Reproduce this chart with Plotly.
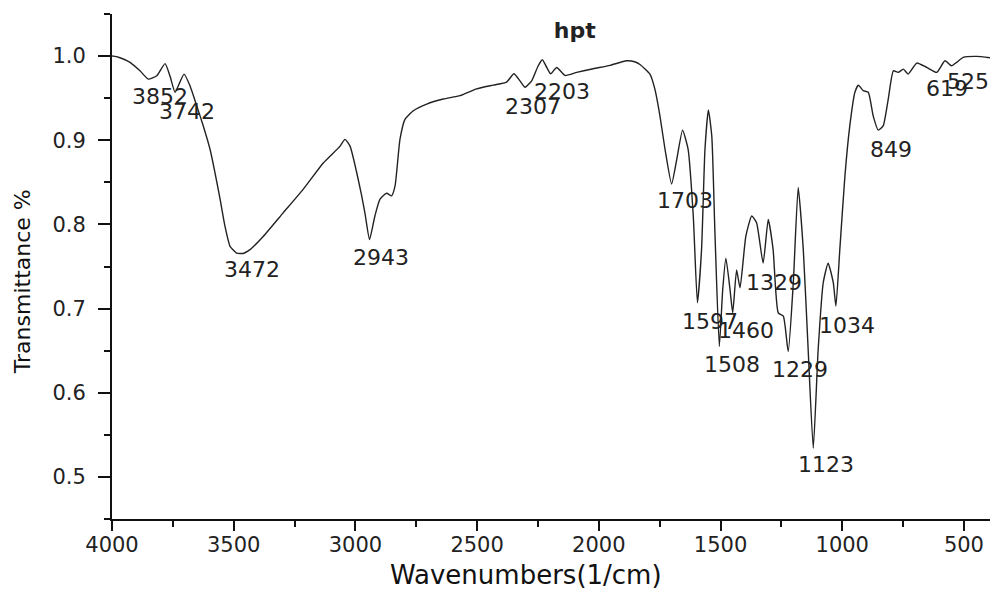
import plotly.graph_objects as go

# Spectrum trace (wavenumber in 1/cm, transmittance)
wavenumber = [4000, 3995, 3967, 3926, 3885, 3851, 3816, 3782, 3762, 3741, 3721, 3704, 3680, 3652,
              3625, 3597, 3577, 3556, 3536, 3515, 3488, 3461, 3433, 3378, 3296, 3214, 3132, 3063,
              3043, 3022, 2995, 2975, 2960, 2942, 2920, 2899, 2872, 2851, 2837, 2817, 2796, 2762,
              2707, 2639, 2570, 2502, 2434, 2379, 2349, 2324, 2303, 2276, 2249, 2232, 2214, 2198,
              2173, 2139, 2091, 2023, 1954, 1886, 1850, 1831, 1790, 1770, 1749, 1728, 1701, 1680,
              1656, 1633, 1612, 1595, 1578, 1564, 1550, 1536, 1523, 1505, 1491, 1478, 1461, 1450,
              1434, 1420, 1396, 1372, 1352, 1325, 1304, 1284, 1263, 1242, 1222, 1201, 1181, 1160,
              1140, 1119, 1099, 1078, 1058, 1037, 1026, 1010, 989, 969, 948, 934, 914, 893, 873,
              852, 832, 811, 790, 770, 749, 729, 694, 653, 612, 578, 551, 530, 503, 448, 393]
transmittance = [1.000, 1.000, 0.998, 0.9925, 0.9825, 0.9726, 0.9766, 0.991, 0.9766, 0.957, 0.969,
                 0.9786, 0.965, 0.941, 0.917, 0.889, 0.8615, 0.830, 0.798, 0.774, 0.766, 0.7655,
                 0.770, 0.786, 0.814, 0.842, 0.873, 0.893, 0.901, 0.893, 0.862, 0.835, 0.812,
                 0.782, 0.810, 0.830, 0.837, 0.834, 0.846, 0.901, 0.925, 0.935, 0.943, 0.949,
                 0.953, 0.961, 0.9655, 0.969, 0.979, 0.9706, 0.963, 0.9706, 0.9885, 0.9956,
                 0.9865, 0.979, 0.9865, 0.977, 0.9806, 0.985, 0.989, 0.9944, 0.993, 0.990,
                 0.9786, 0.961, 0.929, 0.889, 0.848, 0.877, 0.912, 0.889, 0.810, 0.707, 0.770,
                 0.889, 0.936, 0.905, 0.790, 0.655, 0.7226, 0.760, 0.7226, 0.695, 0.746, 0.7246,
                 0.786, 0.810, 0.802, 0.754, 0.806, 0.770, 0.695, 0.691, 0.649, 0.731, 0.844,
                 0.770, 0.651, 0.534, 0.651, 0.731, 0.754, 0.731, 0.703, 0.770, 0.8575, 0.917,
                 0.957, 0.9655, 0.959, 0.957, 0.929, 0.912, 0.917, 0.949, 0.9825, 0.9806, 0.9845,
                 0.9786, 0.9917, 0.9865, 0.9806, 0.9944, 0.9885, 0.9925, 0.9984, 0.9996, 0.998]

# Peak labels and where their text sits (data coordinates)
peak_labels = ["3852", "3742", "3472", "2943", "2307", "2203", "1703", "1597", "1460",
               "1508", "1329", "1229", "1123", "1034", "849", "619", "525"]
label_x = [3803, 3692, 3425, 2895, 2270, 2151, 1646, 1543, 1395, 1453, 1280, 1174, 1067,
           981, 800, 570, 484]
label_y = [0.952, 0.9345, 0.7464, 0.7607, 0.9405, 0.9583, 0.8286, 0.6845, 0.674, 0.6333,
           0.731, 0.6274, 0.5143, 0.680, 0.8893, 0.962, 0.970]

x_ticks = [4000, 3500, 3000, 2500, 2000, 1500, 1000, 500]
y_ticks = [0.5, 0.6, 0.7, 0.8, 0.9, 1.0]

fig = go.Figure()
fig.add_trace(go.Scatter(
    x=wavenumber, y=transmittance, mode="lines",
    line=dict(color="#222222", width=1.4, shape="spline", smoothing=0.5),
    hoverinfo="skip", showlegend=False))

for t, xv, yv in zip(peak_labels, label_x, label_y):
    fig.add_annotation(x=xv, y=yv, text=t, showarrow=False,
                       font=dict(family="DejaVu Sans", size=22, color="#222222"),
                       xanchor="center", yanchor="middle")

# Axis titles placed as paper-anchored text to match the reference positions
fig.add_annotation(xref="paper", yref="paper", x=0.4715, y=-0.1109,
                   text="Wavenumbers(1/cm)", showarrow=False,
                   xanchor="center", yanchor="middle",
                   font=dict(family="DejaVu Sans", size=26, color="#111111"))
fig.add_annotation(xref="paper", yref="paper", x=-0.1025, y=0.469,
                   text="Transmittance %", showarrow=False, textangle=-90,
                   xanchor="center", yanchor="middle",
                   font=dict(family="DejaVu Sans", size=22, color="#111111"))

fig.update_layout(
    width=993, height=592,
    margin=dict(l=112, r=3, t=14, b=73, autoexpand=False),
    paper_bgcolor="white", plot_bgcolor="white",
    title=dict(text="<b>hpt</b>", x=0.527, xref="paper", y=1 - 30 / 592, yref="container",
               xanchor="center", yanchor="middle",
               font=dict(family="DejaVu Sans", size=22, color="#222222")),
    showlegend=False,
)
fig.update_xaxes(
    range=[4000, 393], tickvals=x_ticks, ticktext=[str(v) for v in x_ticks],
    automargin=False,
    showgrid=False, zeroline=False, showline=True, linecolor="#111111", linewidth=2,
    ticks="outside", ticklen=10, tickwidth=2, tickcolor="#111111",
    minor=dict(dtick=250, ticks="outside", ticklen=6, tickwidth=2, tickcolor="#111111", showgrid=False),
    tickfont=dict(family="DejaVu Sans", size=21, color="#222222"),
    ticklabelstandoff=-4,
)
fig.update_yaxes(
    range=[0.45, 1.05], tickvals=y_ticks, ticktext=[f"{v:.1f}" for v in y_ticks],
    automargin=False,
    showgrid=False, zeroline=False, showline=True, linecolor="#111111", linewidth=2,
    ticks="outside", ticklen=12, tickwidth=2, tickcolor="#111111",
    minor=dict(dtick=0.05, tick0=0.45, ticks="outside", ticklen=6, tickwidth=2, tickcolor="#111111", showgrid=False),
    tickfont=dict(family="DejaVu Sans", size=21, color="#222222"),
    ticklabelstandoff=8,
)

fig.write_html("out.html", config={"displayModeBar": False},
               post_script="document.body.style.margin='0';document.body.style.overflow='hidden';")
